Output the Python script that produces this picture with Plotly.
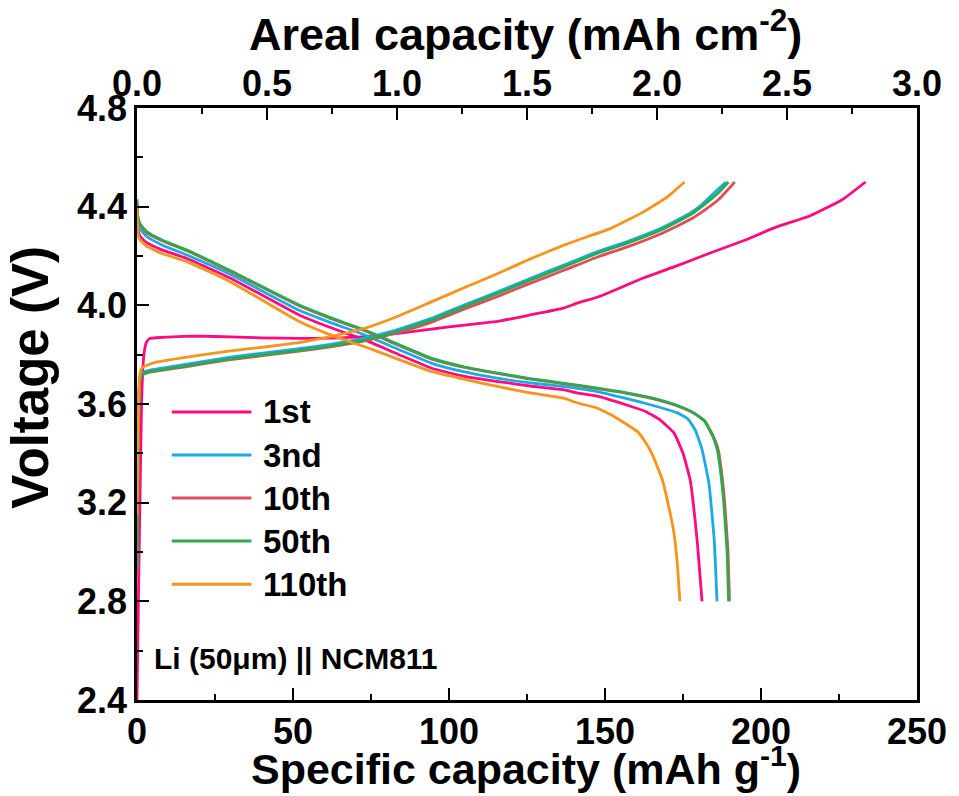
import plotly.graph_objects as go

# Cycle labels and colours
cycle_names = ["1st", "3nd", "10th", "50th", "110th"]
cycle_colors = ["#FF0A7F", "#1AABE6", "#E04C5C", "#2DAA4B", "#F7941D"]

# ---- Charge curves: specific capacity (mAh g-1) vs voltage (V) ----
chg_cap_1st = [0, 0.5, 1.0, 1.5, 2.2, 3, 4, 8, 15, 20, 30, 40, 52, 62, 73, 85, 95, 105,
               116, 126, 137, 141.3, 148, 162.5, 173, 183.7, 195, 205, 215.6, 226, 233.5]
chg_v_1st = [2.40, 2.85, 3.25, 3.62, 3.80, 3.85, 3.865, 3.870, 3.874, 3.875, 3.872, 3.868,
             3.866, 3.867, 3.873, 3.888, 3.905, 3.920, 3.936, 3.961, 3.990, 4.010, 4.035,
             4.112, 4.160, 4.212, 4.265, 4.318, 4.362, 4.428, 4.500]

chg_cap_3rd = [0, 0.3, 0.8, 1.5, 3, 5, 16, 30, 52, 62, 73, 84, 94.5, 105, 115.8, 126, 137,
               147.6, 157.2, 167, 173.2, 178, 181.7, 185.5, 188.8]
chg_v_3rd = [2.92, 3.30, 3.69, 3.724, 3.733, 3.739, 3.762, 3.790, 3.824, 3.842, 3.867, 3.904,
             3.948, 4.002, 4.056, 4.109, 4.164, 4.218, 4.259, 4.307, 4.346, 4.380, 4.416,
             4.462, 4.500]

chg_cap_10th = [0, 0.3, 0.8, 1.5, 3, 5, 16, 30, 52, 62, 73, 84, 94.5, 105, 115.8, 126, 137,
                147.6, 157.2, 167, 173.2, 178, 181.7, 186.5, 191.6]
chg_v_10th = [2.90, 3.28, 3.68, 3.716, 3.725, 3.731, 3.752, 3.780, 3.814, 3.832, 3.856, 3.891,
              3.932, 3.985, 4.037, 4.089, 4.143, 4.196, 4.237, 4.285, 4.322, 4.353, 4.384,
              4.430, 4.500]

chg_cap_50th = [0, 0.3, 0.8, 1.5, 3, 5, 16, 30, 52, 62, 73, 84, 94.5, 105, 115.8, 126, 137,
                147.6, 157.2, 167, 173.2, 178, 181.7, 186, 189.6]
chg_v_50th = [2.94, 3.30, 3.68, 3.718, 3.727, 3.733, 3.755, 3.783, 3.817, 3.835, 3.860, 3.897,
              3.941, 3.995, 4.049, 4.102, 4.157, 4.211, 4.252, 4.300, 4.339, 4.372, 4.407,
              4.452, 4.500]

chg_cap_110th = [0, 0.3, 0.8, 1.5, 3, 5, 16, 30, 52, 62, 73, 84, 94.5, 105, 115.8, 126, 137,
                 141.3, 151.9, 162.5, 170, 175.5]
chg_v_110th = [3.15, 3.45, 3.71, 3.745, 3.756, 3.766, 3.790, 3.815, 3.849, 3.873, 3.907,
               3.958, 4.015, 4.072, 4.130, 4.188, 4.245, 4.265, 4.312, 4.380, 4.440, 4.500]

# ---- Discharge curves ----
dis_cap_1st = [0, 0.3, 1, 3, 8, 16, 30, 52, 62, 73, 84, 94.5, 105, 115.8, 126, 137, 141,
               147.6, 157.2, 163, 167.7, 172.1, 175, 177.3, 179.5, 181.1]
dis_v_1st = [4.39, 4.31, 4.28, 4.255, 4.225, 4.19, 4.11, 3.961, 3.910, 3.860, 3.800, 3.745,
             3.712, 3.691, 3.673, 3.657, 3.645, 3.632, 3.595, 3.570, 3.535, 3.483, 3.40,
             3.292, 3.05, 2.80]

dis_cap_3rd = [0, 0.3, 1, 3, 8, 16, 30, 52, 62, 73, 84, 94.5, 105, 115.8, 126, 137, 147.6,
               162.5, 173.2, 176.5, 178.9, 181, 183.3, 185, 185.9]
dis_v_3rd = [4.41, 4.34, 4.31, 4.28, 4.245, 4.204, 4.125, 3.980, 3.930, 3.880, 3.820, 3.765,
             3.730, 3.704, 3.686, 3.670, 3.650, 3.604, 3.564, 3.54, 3.495, 3.42, 3.28, 3.05,
             2.80]

dis_cap_10th = [0, 0.3, 1, 3, 8, 16, 30, 52, 62, 73, 84, 94.5, 105, 115.8, 126, 137, 147.6,
                157, 167.7, 173, 178.5, 182, 184.7, 186.3, 187.5, 188.3, 189.4, 189.9]
dis_v_10th = [4.42, 4.35, 4.325, 4.295, 4.262, 4.221, 4.137, 3.998, 3.947, 3.897, 3.837,
              3.782, 3.748, 3.723, 3.701, 3.682, 3.662, 3.643, 3.614, 3.593, 3.562, 3.53,
              3.47, 3.414, 3.31, 3.21, 3.008, 2.80]

dis_cap_50th = [0, 0.3, 1, 3, 8, 16, 30, 52, 62, 73, 84, 94.5, 105, 115.8, 126, 137, 147.6,
                157, 167.7, 173, 178.5, 182, 184.5, 186, 187.2, 188, 189.1, 189.6]
dis_v_50th = [4.43, 4.36, 4.33, 4.30, 4.265, 4.224, 4.14, 4.001, 3.950, 3.900, 3.840, 3.785,
              3.750, 3.725, 3.703, 3.684, 3.664, 3.645, 3.616, 3.595, 3.564, 3.53, 3.47,
              3.414, 3.31, 3.21, 3.008, 2.80]

dis_cap_110th = [0, 0.3, 1, 3, 8, 16, 30, 52, 62, 73, 84, 94.5, 105, 115.8, 126, 137, 141,
                 147.6, 151.9, 156, 160.4, 162.5, 165, 168.4, 170.5, 172.1, 173.2, 174]
dis_v_110th = [4.40, 4.29, 4.265, 4.24, 4.21, 4.177, 4.095, 3.934, 3.880, 3.832, 3.780,
               3.731, 3.700, 3.670, 3.645, 3.623, 3.605, 3.583, 3.556, 3.525, 3.488, 3.454,
               3.40, 3.292, 3.18, 3.077, 2.95, 2.80]

# Axis ranges and ticks
spec_range = [0, 250]
spec_ticks = [0, 50, 100, 150, 200, 250]
areal_range = [0, 3.0]
areal_ticks = [0.0, 0.5, 1.0, 1.5, 2.0, 2.5, 3.0]
volt_range = [2.4, 4.8]
volt_ticks = [2.4, 2.8, 3.2, 3.6, 4.0, 4.4, 4.8]

x_title = "Specific capacity (mAh g<sup>-1</sup>)"
x2_title = "Areal capacity (mAh cm<sup>-2</sup>)"
y_title = "Voltage (V)"
cell_label = "Li (50μm) || NCM811"

FONT = "Liberation Sans, Arial, sans-serif"

curves = [
    (chg_cap_1st, chg_v_1st, dis_cap_1st, dis_v_1st),
    (chg_cap_3rd, chg_v_3rd, dis_cap_3rd, dis_v_3rd),
    (chg_cap_10th, chg_v_10th, dis_cap_10th, dis_v_10th),
    (chg_cap_50th, chg_v_50th, dis_cap_50th, dis_v_50th),
    (chg_cap_110th, chg_v_110th, dis_cap_110th, dis_v_110th),
]

fig = go.Figure()

for name, color, (cc, cv, dc, dv) in zip(cycle_names, cycle_colors, curves):
    for xs, ys in ((cc, cv), (dc, dv)):
        fig.add_trace(go.Scatter(
            x=xs, y=ys, mode="lines", name=name,
            line=dict(color=color, width=2.8, shape="spline", smoothing=0.4),
            showlegend=False, hoverinfo="skip",
        ))

# Empty trace that anchors the areal-capacity axis on top
fig.add_trace(go.Scatter(x=areal_range, y=[None, None], xaxis="x2", yaxis="y",
                         mode="lines", showlegend=False, hoverinfo="skip"))

# Legend inside the plot area: long line samples with labels
leg_x0, leg_x1, leg_tx = 0.0446, 0.1467, 0.1594
leg_top, leg_step = 0.4865, 0.0727
for i, (name, color) in enumerate(zip(cycle_names, cycle_colors)):
    yy = leg_top - i * leg_step
    fig.add_shape(type="line", xref="paper", yref="paper",
                  x0=leg_x0, x1=leg_x1, y0=yy, y1=yy,
                  line=dict(color=color, width=3))
    fig.add_annotation(xref="paper", yref="paper", x=leg_tx, y=yy,
                       text=name, showarrow=False, xanchor="left", yanchor="middle",
                       font=dict(family=FONT, size=33, color="black", weight="bold"))

fig.add_annotation(xref="paper", yref="paper", x=0.0187, y=0.0709,
                   text=cell_label, showarrow=False, xanchor="left", yanchor="middle",
                   font=dict(family=FONT, size=30, color="black", weight="bold"))

# Axis titles
fig.add_annotation(xref="paper", yref="paper", x=0.499, y=-0.1115, text=x_title,
                   showarrow=False, xanchor="center", yanchor="middle",
                   font=dict(family=FONT, size=43, color="black", weight="bold"))
fig.add_annotation(xref="paper", yref="paper", x=0.498, y=1.1295, text=x2_title,
                   showarrow=False, xanchor="center", yanchor="middle",
                   font=dict(family=FONT, size=45, color="black", weight="bold"))
fig.add_annotation(xref="paper", yref="paper", x=-0.136, y=0.546, text=y_title,
                   textangle=-90, showarrow=False, xanchor="center", yanchor="middle",
                   font=dict(family=FONT, size=51, color="black", weight="bold"))

tickfont = dict(family=FONT, size=36, color="black", weight="bold")
axis_common = dict(
    showgrid=False, zeroline=False, showline=True, linecolor="black", linewidth=2.5,
    ticks="inside", ticklen=12, tickwidth=2, tickcolor="black", tickfont=tickfont,
)

fig.update_layout(
    width=959, height=796,
    margin=dict(l=137, r=38, t=108, b=96),
    paper_bgcolor="white", plot_bgcolor="white",
    showlegend=False,
    xaxis=dict(
        range=spec_range, tickvals=spec_ticks, ticklabelstandoff=-2,
        minor=dict(ticks="inside", ticklen=6, tickwidth=2, tickcolor="black", dtick=25),
        **axis_common,
    ),
    xaxis2=dict(
        range=areal_range, tickvals=areal_ticks, tickformat=".1f",
        overlaying="x", side="top", anchor="y", ticklabelstandoff=-5,
        minor=dict(ticks="inside", ticklen=6, tickwidth=2, tickcolor="black", dtick=0.25),
        **axis_common,
    ),
    yaxis=dict(
        range=volt_range, tickvals=volt_ticks, tickformat=".1f", mirror=True,
        minor=dict(ticks="inside", ticklen=6, tickwidth=2, tickcolor="black", dtick=0.2),
        **axis_common,
    ),
)

fig.write_html("out.html")
